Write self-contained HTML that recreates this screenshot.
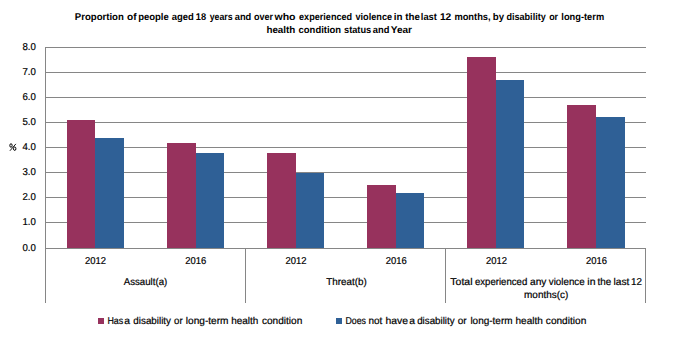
<!DOCTYPE html><html><head><meta charset="utf-8"><style>html,body{margin:0;padding:0;background:#fff;width:680px;height:339px;overflow:hidden}svg{display:block}text{font-family:"Liberation Sans",sans-serif;fill:#000;text-rendering:geometricPrecision}.r{stroke:#000;stroke-width:0.2}.b{font-weight:bold;stroke:none}</style></head><body>
<svg width="680" height="339" viewBox="0 0 680 339">
<rect x="45" y="47" width="601" height="1" fill="#868686"/>
<rect x="45" y="72" width="601" height="1" fill="#868686"/>
<rect x="45" y="97" width="601" height="1" fill="#868686"/>
<rect x="45" y="122" width="601" height="1" fill="#868686"/>
<rect x="45" y="147" width="601" height="1" fill="#868686"/>
<rect x="45" y="172" width="601" height="1" fill="#868686"/>
<rect x="45" y="197" width="601" height="1" fill="#868686"/>
<rect x="45" y="222" width="601" height="1" fill="#868686"/>
<rect x="45" y="248" width="601" height="1" fill="#868686"/>
<rect x="67" y="120" width="28" height="128" fill="#97325D"/>
<rect x="95" y="138" width="29" height="110" fill="#2F6096"/>
<rect x="167" y="143" width="29" height="105" fill="#97325D"/>
<rect x="196" y="153" width="28" height="95" fill="#2F6096"/>
<rect x="267" y="153" width="29" height="95" fill="#97325D"/>
<rect x="296" y="173" width="28" height="75" fill="#2F6096"/>
<rect x="367" y="185" width="29" height="63" fill="#97325D"/>
<rect x="396" y="193" width="28" height="55" fill="#2F6096"/>
<rect x="467" y="57" width="29" height="191" fill="#97325D"/>
<rect x="496" y="80" width="28" height="168" fill="#2F6096"/>
<rect x="567" y="105" width="29" height="143" fill="#97325D"/>
<rect x="596" y="117" width="29" height="131" fill="#2F6096"/>
<rect x="45" y="248" width="601" height="1" fill="#868686"/>
<rect x="45" y="47" width="1" height="256" fill="#868686"/>
<rect x="245" y="248" width="1" height="55" fill="#868686"/>
<rect x="445" y="248" width="1" height="55" fill="#868686"/>
<rect x="645" y="248" width="1" height="55" fill="#868686"/>
<text x="35.8" y="50" font-size="10" text-anchor="end" textLength="13.4" lengthAdjust="spacingAndGlyphs" class="r">8.0</text>
<text x="35.8" y="75" font-size="10" text-anchor="end" textLength="13.4" lengthAdjust="spacingAndGlyphs" class="r">7.0</text>
<text x="35.8" y="100" font-size="10" text-anchor="end" textLength="13.4" lengthAdjust="spacingAndGlyphs" class="r">6.0</text>
<text x="35.8" y="125" font-size="10" text-anchor="end" textLength="13.4" lengthAdjust="spacingAndGlyphs" class="r">5.0</text>
<text x="35.8" y="150" font-size="10" text-anchor="end" textLength="13.4" lengthAdjust="spacingAndGlyphs" class="r">4.0</text>
<text x="35.8" y="175" font-size="10" text-anchor="end" textLength="13.4" lengthAdjust="spacingAndGlyphs" class="r">3.0</text>
<text x="35.8" y="200" font-size="10" text-anchor="end" textLength="13.4" lengthAdjust="spacingAndGlyphs" class="r">2.0</text>
<text x="35.8" y="225" font-size="10" text-anchor="end" textLength="13.4" lengthAdjust="spacingAndGlyphs" class="r">1.0</text>
<text x="35.8" y="251" font-size="10" text-anchor="end" textLength="13.4" lengthAdjust="spacingAndGlyphs" class="r">0.0</text>
<g fill="none" stroke="#000" stroke-width="1"><ellipse cx="11" cy="145.5" rx="1.2" ry="1.75"/><ellipse cx="14.7" cy="148.7" rx="1.2" ry="1.75"/><path d="M15.9 143.9 L9.9 150.8" stroke-width="0.9"/></g>
<text x="95.6" y="264" font-size="10" text-anchor="middle" textLength="21" lengthAdjust="spacingAndGlyphs" class="r">2012</text>
<text x="195.8" y="264" font-size="10" text-anchor="middle" textLength="21" lengthAdjust="spacingAndGlyphs" class="r">2016</text>
<text x="296.0" y="264" font-size="10" text-anchor="middle" textLength="21" lengthAdjust="spacingAndGlyphs" class="r">2012</text>
<text x="396.2" y="264" font-size="10" text-anchor="middle" textLength="21" lengthAdjust="spacingAndGlyphs" class="r">2016</text>
<text x="496.4" y="264" font-size="10" text-anchor="middle" textLength="21" lengthAdjust="spacingAndGlyphs" class="r">2012</text>
<text x="596.6" y="264" font-size="10" text-anchor="middle" textLength="21" lengthAdjust="spacingAndGlyphs" class="r">2016</text>
<text x="145.5" y="285" font-size="10" text-anchor="middle" textLength="43.5" lengthAdjust="spacingAndGlyphs" class="r">Assault(a)</text>
<text x="346.5" y="285" font-size="10" text-anchor="middle" textLength="40.5" lengthAdjust="spacingAndGlyphs" class="r">Threat(b)</text>
<text x="450.39" y="285" font-size="10" textLength="22.17" lengthAdjust="spacingAndGlyphs" class="r">Total</text>
<text x="474.99" y="285" font-size="10" textLength="52.29" lengthAdjust="spacingAndGlyphs" class="r">experienced</text>
<text x="530.00" y="285" font-size="10" textLength="16.42" lengthAdjust="spacingAndGlyphs" class="r">any</text>
<text x="548.79" y="285" font-size="10" textLength="35.90" lengthAdjust="spacingAndGlyphs" class="r">violence</text>
<text x="587.39" y="285" font-size="10" textLength="8.10" lengthAdjust="spacingAndGlyphs" class="r">in</text>
<text x="597.60" y="285" font-size="10" textLength="13.70" lengthAdjust="spacingAndGlyphs" class="r">the</text>
<text x="613.48" y="285" font-size="10" textLength="15.89" lengthAdjust="spacingAndGlyphs" class="r">last</text>
<text x="630.95" y="285" font-size="10" textLength="10.92" lengthAdjust="spacingAndGlyphs" class="r">12</text>
<text x="546.2" y="298" font-size="10" text-anchor="middle" textLength="44.3" lengthAdjust="spacingAndGlyphs" class="r">months(c)</text>
<text x="74.83" y="20" font-size="9.8" textLength="48.93" lengthAdjust="spacingAndGlyphs" class="b">Proportion</text>
<text x="127.06" y="20" font-size="9.8" textLength="9.51" lengthAdjust="spacingAndGlyphs" class="b">of</text>
<text x="138.18" y="20" font-size="9.8" textLength="30.63" lengthAdjust="spacingAndGlyphs" class="b">people</text>
<text x="171.67" y="20" font-size="9.8" textLength="22.11" lengthAdjust="spacingAndGlyphs" class="b">aged</text>
<text x="195.81" y="20" font-size="9.8" textLength="10.29" lengthAdjust="spacingAndGlyphs" class="b">18</text>
<text x="209.68" y="20" font-size="9.8" textLength="22.92" lengthAdjust="spacingAndGlyphs" class="b">years</text>
<text x="234.72" y="20" font-size="9.8" textLength="16.56" lengthAdjust="spacingAndGlyphs" class="b">and</text>
<text x="253.92" y="20" font-size="9.8" textLength="19.07" lengthAdjust="spacingAndGlyphs" class="b">over</text>
<text x="274.50" y="20" font-size="9.8" textLength="21.03" lengthAdjust="spacingAndGlyphs" class="b">who</text>
<text x="299.01" y="20" font-size="9.8" textLength="53.16" lengthAdjust="spacingAndGlyphs" class="b">experienced</text>
<text x="355.44" y="20" font-size="9.8" textLength="36.63" lengthAdjust="spacingAndGlyphs" class="b">violence</text>
<text x="393.67" y="20" font-size="9.8" textLength="8.76" lengthAdjust="spacingAndGlyphs" class="b">in</text>
<text x="405.17" y="20" font-size="9.8" textLength="14.66" lengthAdjust="spacingAndGlyphs" class="b">the</text>
<text x="420.84" y="20" font-size="9.8" textLength="16.05" lengthAdjust="spacingAndGlyphs" class="b">last</text>
<text x="439.91" y="20" font-size="9.8" textLength="11.38" lengthAdjust="spacingAndGlyphs" class="b">12</text>
<text x="454.42" y="20" font-size="9.8" textLength="36.17" lengthAdjust="spacingAndGlyphs" class="b">months,</text>
<text x="492.87" y="20" font-size="9.8" textLength="11.30" lengthAdjust="spacingAndGlyphs" class="b">by</text>
<text x="506.46" y="20" font-size="9.8" textLength="39.28" lengthAdjust="spacingAndGlyphs" class="b">disability</text>
<text x="549.15" y="20" font-size="9.8" textLength="8.91" lengthAdjust="spacingAndGlyphs" class="b">or</text>
<text x="561.34" y="20" font-size="9.8" textLength="42.81" lengthAdjust="spacingAndGlyphs" class="b">long-term</text>
<text x="266.38" y="33" font-size="9.8" textLength="29.00" lengthAdjust="spacingAndGlyphs" class="b">health</text>
<text x="298.61" y="33" font-size="9.8" textLength="42.46" lengthAdjust="spacingAndGlyphs" class="b">condition</text>
<text x="344.05" y="33" font-size="9.8" textLength="27.16" lengthAdjust="spacingAndGlyphs" class="b">status</text>
<text x="372.80" y="33" font-size="9.8" textLength="16.62" lengthAdjust="spacingAndGlyphs" class="b">and</text>
<text x="390.77" y="33" font-size="9.8" textLength="21.27" lengthAdjust="spacingAndGlyphs" class="b">Year</text>
<rect x="98" y="318" width="6" height="6" fill="#97325D"/>
<text x="107.41" y="324" font-size="10" textLength="15.81" lengthAdjust="spacingAndGlyphs" class="r">Has</text>
<text x="124.24" y="324" font-size="10" textLength="5.76" lengthAdjust="spacingAndGlyphs" class="r">a</text>
<text x="133.36" y="324" font-size="10" textLength="37.63" lengthAdjust="spacingAndGlyphs" class="r">disability</text>
<text x="174.11" y="324" font-size="10" textLength="8.57" lengthAdjust="spacingAndGlyphs" class="r">or</text>
<text x="185.86" y="324" font-size="10" textLength="42.62" lengthAdjust="spacingAndGlyphs" class="r">long-term</text>
<text x="231.14" y="324" font-size="10" textLength="27.16" lengthAdjust="spacingAndGlyphs" class="r">health</text>
<text x="261.93" y="324" font-size="10" textLength="40.38" lengthAdjust="spacingAndGlyphs" class="r">condition</text>
<rect x="336" y="318" width="6" height="6" fill="#2F6096"/>
<text x="345.41" y="324" font-size="10" textLength="20.58" lengthAdjust="spacingAndGlyphs" class="r">Does</text>
<text x="368.53" y="324" font-size="10" textLength="13.85" lengthAdjust="spacingAndGlyphs" class="r">not</text>
<text x="385.46" y="324" font-size="10" textLength="22.55" lengthAdjust="spacingAndGlyphs" class="r">have</text>
<text x="409.15" y="324" font-size="10" textLength="5.75" lengthAdjust="spacingAndGlyphs" class="r">a</text>
<text x="417.15" y="324" font-size="10" textLength="37.47" lengthAdjust="spacingAndGlyphs" class="r">disability</text>
<text x="457.75" y="324" font-size="10" textLength="8.89" lengthAdjust="spacingAndGlyphs" class="r">or</text>
<text x="470.40" y="324" font-size="10" textLength="42.13" lengthAdjust="spacingAndGlyphs" class="r">long-term</text>
<text x="515.56" y="324" font-size="10" textLength="27.32" lengthAdjust="spacingAndGlyphs" class="r">health</text>
<text x="545.84" y="324" font-size="10" textLength="40.45" lengthAdjust="spacingAndGlyphs" class="r">condition</text>
</svg></body></html>
